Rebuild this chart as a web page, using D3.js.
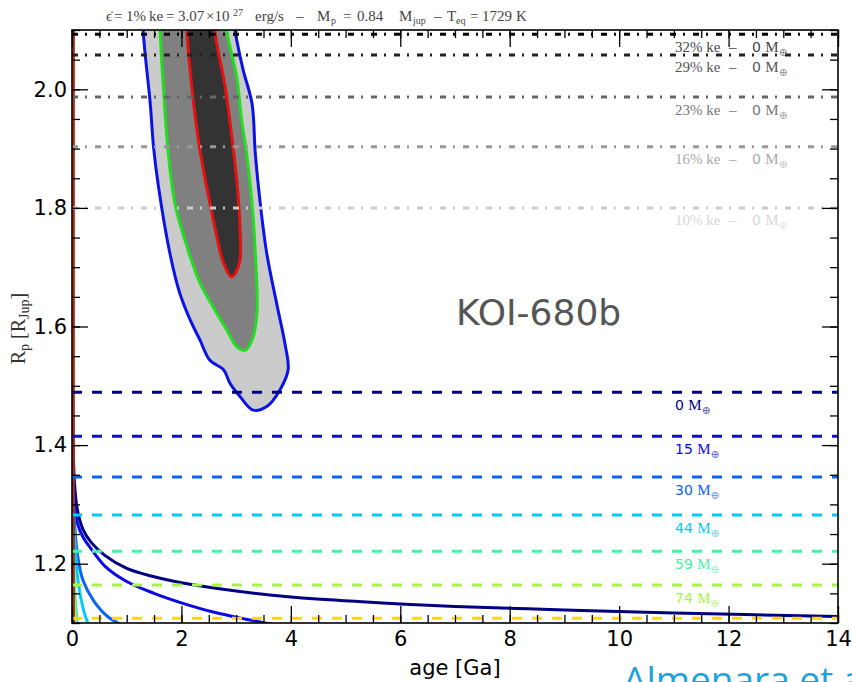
<!DOCTYPE html>
<html>
<head>
<meta charset="utf-8">
<script src="https://cdn.jsdelivr.net/npm/d3@7"></script>
<style>
  body { margin: 0; background: #fff; }
  svg { display: block; font-family: "DejaVu Sans", sans-serif; }
  .serif { font-family: "Liberation Serif", "DejaVu Serif", serif; }
  .tick line { stroke: #000; stroke-width: 1.3; }
</style>
</head>
<body>
<div id="chart"></div>
<script>
// ---- data ----
// constant-radius references: heating efficiency (ke) and core mass
const keLevels = ['32%', '29%', '23%', '16%', '10%'];
const keRadii = [2.093, 2.058, 1.987, 1.903, 1.800];

const coreMasses = ['0', '15', '30', '44', '59', '74', '89'];
const massRadii = [1.489, 1.415, 1.346, 1.282, 1.221, 1.164, 1.108];

// evolution tracks (age in Ga, radius in R_Jup), one per core mass
const track0Ages = [0.005, 0.02, 0.05, 0.1, 0.2, 0.35, 0.6, 1.0, 1.5, 2.0, 3.0, 4.0, 5.3, 7, 9, 11, 14];
const track0Radii = [1.50, 1.40, 1.33, 1.29, 1.258, 1.236, 1.214, 1.192, 1.178, 1.168, 1.154, 1.144, 1.136, 1.128, 1.122, 1.117, 1.111];
const track15Ages = [0.005, 0.02, 0.05, 0.1, 0.2, 0.35, 0.6, 1.0, 1.5, 2.0, 2.6, 3.2, 3.7];
const track15Radii = [1.42, 1.35, 1.30, 1.268, 1.245, 1.225, 1.196, 1.17, 1.15, 1.134, 1.118, 1.106, 1.097];
const track30Ages = [0.005, 0.02, 0.05, 0.1, 0.2, 0.4, 0.65, 0.9];
const track30Radii = [1.40, 1.32, 1.265, 1.215, 1.172, 1.137, 1.111, 1.097];
const track44Ages = [0.003, 0.02, 0.055, 0.115, 0.21, 0.3];
const track44Radii = [1.36, 1.29, 1.235, 1.167, 1.122, 1.097];
const track59Ages = [0.003, 0.02, 0.037, 0.06, 0.1];
const track59Radii = [1.30, 1.22, 1.184, 1.14, 1.097];
const track74Ages = [0.002, 0.02, 0.04, 0.06];
const track74Radii = [1.25, 1.17, 1.12, 1.097];
const track89Ages = [0.001, 0.01, 0.03];
const track89Radii = [1.20, 1.13, 1.097];
// high-ke tracks all sit on the age=0 edge
const keTrackAges = [0.03, 0.03];
const keTrackRadii = [1.1, 2.1];

// posterior contours (outer, middle, inner)
const outerAges = [1.28, 1.30, 1.43, 1.49, 1.58, 1.79, 1.97, 2.16, 2.34, 2.52, 2.77, 2.89, 3.07, 3.31, 3.56, 3.80, 3.95, 3.89, 3.74, 3.56, 3.44, 3.35, 3.29, 3.13, 3.01, 2.98, 2.96];
const outerRadii = [2.2, 2.1, 1.976, 1.903, 1.836, 1.723, 1.656, 1.611, 1.577, 1.543, 1.527, 1.504, 1.482, 1.459, 1.465, 1.493, 1.527, 1.572, 1.639, 1.723, 1.808, 1.892, 1.976, 2.032, 2.083, 2.1, 2.2];
const midAges = [1.60, 1.61, 1.67, 1.76, 1.88, 2.10, 2.34, 2.58, 2.83, 3.01, 3.16, 3.29, 3.38, 3.35, 3.29, 3.19, 3.10, 3.01, 2.83, 2.80];
const midRadii = [2.2, 2.1, 2.004, 1.892, 1.808, 1.735, 1.673, 1.633, 1.594, 1.566, 1.560, 1.577, 1.622, 1.723, 1.808, 1.892, 1.948, 2.021, 2.1, 2.2];
const innerAges = [2.09, 2.10, 2.19, 2.31, 2.46, 2.61, 2.77, 2.92, 3.06, 3.07, 3.01, 2.92, 2.80, 2.61, 2.59];
const innerRadii = [2.2, 2.1, 2.004, 1.914, 1.836, 1.768, 1.707, 1.684, 1.707, 1.768, 1.847, 1.920, 2.004, 2.1, 2.2];

// ---- styles ----
const keColors = ['#000', '#222', '#666', '#999', '#ccc'];
const keLabelColors = ['#444', '#555', '#777', '#aaa', '#d8d8d8'];
const massColors = ['#000080', '#0a0ae6', '#0a64f5', '#00ccf5', '#44f5a0', '#a6f545', '#ffd700'];

const width = 852, height = 682;
const plotLeft = 72, plotRight = 838, plotTop = 30, plotBottom = 623;

const svg = d3.select('#chart').append('svg')
    .attr('width', width).attr('height', height);

const x = d3.scaleLinear().domain([0, 14]).range([plotLeft, plotRight]);
const y = d3.scaleLinear().domain([1.1, 2.1]).range([plotBottom, plotTop]);

svg.append('clipPath').attr('id', 'plot-clip')
  .append('rect')
    .attr('x', plotLeft).attr('y', plotTop)
    .attr('width', plotRight - plotLeft).attr('height', plotBottom - plotTop);

const plot = svg.append('g').attr('clip-path', 'url(#plot-clip)');

const zip = (a, b) => a.map((v, i) => [v, b[i]]);
const line = d3.line().x(d => x(d[0])).y(d => y(d[1]));
const smooth = d3.line().x(d => x(d[0])).y(d => y(d[1])).curve(d3.curveCatmullRom.alpha(0.5));
const closed = d3.line().x(d => x(d[0])).y(d => y(d[1])).curve(d3.curveCatmullRomClosed.alpha(0.5));

// contours
[[outerAges, outerRadii, '#cbcbcb', '#0a14e6'],
 [midAges, midRadii, '#808080', '#22dd22'],
 [innerAges, innerRadii, '#333', '#e51010']].forEach(([a, r, fill, stroke]) => {
  plot.append('path')
      .attr('d', closed(zip(a, r)))
      .attr('fill', fill).attr('stroke', stroke).attr('stroke-width', 3);
});

// evolution tracks
const tracks = [
  [track0Ages, track0Radii], [track15Ages, track15Radii], [track30Ages, track30Radii],
  [track44Ages, track44Radii], [track59Ages, track59Radii], [track74Ages, track74Radii],
  [track89Ages, track89Radii]
];
tracks.forEach(([a, r], i) => {
  plot.append('path')
      .attr('d', smooth(zip(a, r)))
      .attr('fill', 'none').attr('stroke', massColors[i]).attr('stroke-width', 3);
});
plot.append('path')
    .attr('d', line(zip(keTrackAges, keTrackRadii)))
    .attr('fill', 'none').attr('stroke', '#b02a10').attr('stroke-width', 2.5);

// core-mass radius levels
plot.selectAll('line.mass')
  .data(massRadii)
  .join('line')
    .classed('mass', true)
    .attr('x1', plotLeft).attr('x2', plotRight)
    .attr('y1', d => y(d)).attr('y2', d => y(d))
    .attr('stroke', (d, i) => massColors[i])
    .attr('stroke-width', 3)
    .attr('stroke-dasharray', '10,10');

// ke radius levels
plot.selectAll('line.ke')
  .data(keRadii)
  .join('line')
    .classed('ke', true)
    .attr('x1', plotLeft).attr('x2', plotRight)
    .attr('y1', d => y(d)).attr('y2', d => y(d))
    .attr('stroke', (d, i) => keColors[i])
    .attr('stroke-width', 3)
    .attr('stroke-dasharray', '6,7,2,8');

// labels under the levels (the lowest one falls outside the frame)
const labelX = 675, labelDrop = 17.5;
const shownMasses = massRadii
    .map((r, i) => ({r, label: coreMasses[i], color: massColors[i]}))
    .filter(d => y(d.r) + labelDrop < plotBottom);

plot.selectAll('text.mass-label')
  .data(shownMasses)
  .join('text')
    .classed('mass-label', true)
    .attr('x', labelX).attr('y', d => y(d.r) + labelDrop)
    .attr('font-size', 14)
    .attr('fill', d => d.color)
    .each(function(d) {
      const t = d3.select(this);
      t.append('tspan').text(d.label + ' ');
      t.append('tspan').attr('class', 'serif').attr('font-size', 15).text('M');
      t.append('tspan').attr('class', 'serif').attr('font-size', 11)
          .attr('dy', 4).attr('opacity', 0.6).text('⊕');
    });

plot.selectAll('text.ke-label')
  .data(keRadii)
  .join('text')
    .classed('ke-label', true)
    .attr('x', labelX).attr('y', d => y(d) + labelDrop)
    .attr('font-size', 14)
    .attr('fill', (d, i) => keLabelColors[i])
    .each(function(d, i) {
      const t = d3.select(this);
      t.append('tspan').attr('class', 'serif').attr('font-size', 15).text(keLevels[i] + ' ke');
      t.append('tspan').attr('class', 'serif').attr('font-size', 15).attr('x', 729).text('–');
      t.append('tspan').attr('x', 752).text('0 ');
      t.append('tspan').attr('class', 'serif').attr('font-size', 15).text('M');
      t.append('tspan').attr('class', 'serif').attr('font-size', 11)
          .attr('dy', 4).attr('opacity', 0.6).text('⊕');
    });

// planet name
svg.append('text')
    .attr('x', 456).attr('y', 325)
    .attr('font-size', 36).attr('fill', '#555')
    .text('KOI-680b');

// frame
svg.append('rect')
    .attr('x', plotLeft).attr('y', plotTop)
    .attr('width', plotRight - plotLeft).attr('height', plotBottom - plotTop)
    .attr('fill', 'none').attr('stroke', '#000').attr('stroke-width', 1.6);

// axes: ticks point inwards on all four sides
const xMinor = d3.range(0, 14.01, 0.5);
const xMajor = d3.range(0, 14.01, 2);
const yMinor = d3.range(1.1, 2.101, 0.05);
const yMajor = [1.2, 1.4, 1.6, 1.8, 2.0];

function addAxis(axis, tx, ty, labels) {
  const g = svg.append('g').attr('transform', `translate(${tx},${ty})`).call(axis);
  g.select('.domain').remove();
  if (labels) {
    g.selectAll('text').attr('font-size', 21)
        .attr('font-family', '"DejaVu Sans", sans-serif').attr('fill', '#000');
  } else {
    g.selectAll('text').remove();
  }
  return g;
}

addAxis(d3.axisBottom(x).tickValues(xMinor).tickSize(-8).tickFormat(''), 0, plotBottom, false);
addAxis(d3.axisBottom(x).tickValues(xMajor).tickSize(-17).tickPadding(8).tickFormat(d3.format('d')), 0, plotBottom, true);
addAxis(d3.axisTop(x).tickValues(xMinor).tickSize(-8).tickFormat(''), 0, plotTop, false);
addAxis(d3.axisTop(x).tickValues(xMajor).tickSize(-17).tickFormat(''), 0, plotTop, false);
addAxis(d3.axisLeft(y).tickValues(yMinor).tickSize(-8).tickFormat(''), plotLeft, 0, false);
addAxis(d3.axisLeft(y).tickValues(yMajor).tickSize(-16).tickPadding(5).tickFormat(d3.format('.1f')), plotLeft, 0, true);
addAxis(d3.axisRight(y).tickValues(yMinor).tickSize(-8).tickFormat(''), plotRight, 0, false);
addAxis(d3.axisRight(y).tickValues(yMajor).tickSize(-16).tickFormat(''), plotRight, 0, false);

// axis titles
svg.append('text')
    .attr('x', (plotLeft + plotRight) / 2).attr('y', 675)
    .attr('text-anchor', 'middle').attr('font-size', 21)
    .text('age [Ga]');

const yTitle = svg.append('text')
    .attr('class', 'serif')
    .attr('transform', `translate(25,${(plotTop + plotBottom) / 2 + 2}) rotate(-90)`)
    .attr('text-anchor', 'middle').attr('font-size', 20).attr('fill', '#333');
yTitle.append('tspan').text('R');
yTitle.append('tspan').attr('font-size', 14).attr('dy', 4).text('p');
yTitle.append('tspan').attr('dy', -4).text(' [R');
yTitle.append('tspan').attr('font-size', 14).attr('dy', 4).text('Jup');
yTitle.append('tspan').attr('dy', -4).text(']');

// run parameters above the frame, laid out piece by piece like the math text
const title = svg.append('text')
    .attr('class', 'serif')
    .attr('y', 21)
    .attr('font-size', 15).attr('fill', '#444');
[['ϵ̇', 106, 0], ['=', 114, 0], ['1%', 126, 0], ['ke', 149, 0], ['=', 166, 0], ['3.07', 178, 0],
 ['×10', 206, 0], ['27', 233, -5], ['erg/s', 255, 0], ['–', 296, 0], ['M', 317, 0], ['p', 331, 3],
 ['=', 343, 0], ['0.84', 357, 0], ['M', 399, 0], ['jup', 413, 3], ['–', 434, 0], ['T', 447, 0],
 ['eq', 456, 3], ['=', 470, 0], ['1729', 482, 0], ['K', 516, 0]].forEach(([s, px, shift]) => {
  title.append('tspan')
      .attr('x', px).attr('y', 21 + shift)
      .attr('font-size', shift ? 10 : 15)
      .text(s);
});

// credit, cut by the bottom of the page
svg.append('text')
    .attr('x', 623).attr('y', 693)
    .attr('font-size', 37).attr('fill', '#1ea2dc')
    .attr('font-family', '"Open Sans", sans-serif')
    .text('Almenara et al.');
</script>
</body>
</html>
